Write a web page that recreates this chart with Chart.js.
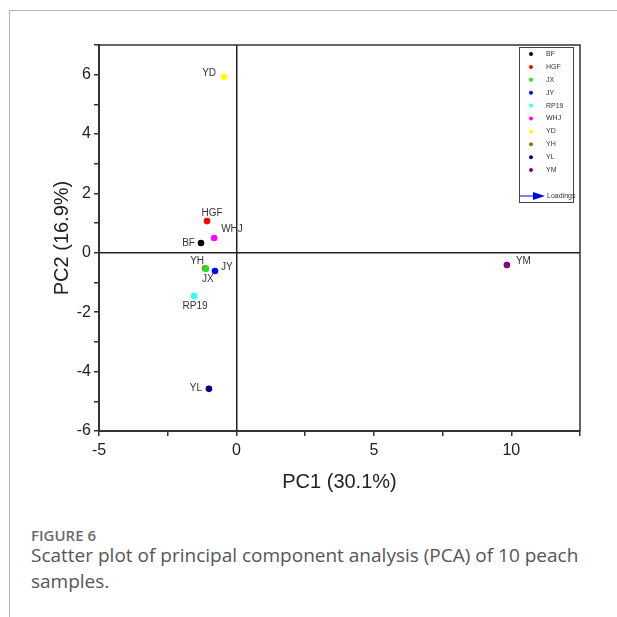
<!DOCTYPE html>
<html>
<head>
<meta charset="utf-8">
<script src="https://cdn.jsdelivr.net/npm/chart.js@4"></script>
<style>
  body { margin: 0; background: #fff; width: 617px; height: 617px; overflow: hidden; position: relative; }
  #frame { position: absolute; left: 9px; top: 10px; width: 620px; height: 620px; border-left: 1px solid #b5b5b5; border-top: 1px solid #b5b5b5; }
  #pca { position: absolute; left: 0; top: 0; }
  #fig { position: absolute; left: 31px; top: 525px; font-family: "Open Sans", sans-serif; font-size: 15px; font-weight: 600; color: #6b6b6b; }
  #cap { position: absolute; left: 31px; top: 542px; width: 580px; font-family: "Open Sans", sans-serif; font-size: 19px; line-height: 26px; color: #555; }
</style>
</head>
<body>
<div id="frame"></div>
<canvas id="pca" width="617" height="500"></canvas>
<div id="fig">FIGURE 6</div>
<div id="cap">Scatter plot of principal component analysis (PCA) of 10 peach samples.</div>
<script>
const samples = ['BF', 'HGF', 'JX', 'JY', 'RP19', 'WHJ', 'YD', 'YH', 'YL', 'YM'];
const pc1 = [-1.29, -1.07, -1.11, -0.78, -1.54, -0.81, -0.45, -1.14, -1.00, 9.84];
const pc2 = [0.33, 1.07, -0.54, -0.61, -1.45, 0.50, 5.92, -0.52, -4.58, -0.41];
const colors = ['#000000', '#ff0000', '#22e022', '#0000ff', '#33ffff', '#ff00ff', '#ffff00', '#808000', '#000080', '#800080'];
const xTicks = [-5, 0, 5, 10];
const yTicks = [-6, -4, -2, 0, 2, 4, 6];

// where each point label sits next to its point: [dx, dy, align]
const labelPos = {
  BF: [-6, 0, 'right'], HGF: [5, -8, 'center'], JX: [2, 10, 'center'], JY: [6, -4, 'left'],
  RP19: [1, 10, 'center'], WHJ: [7, -9, 'left'], YD: [-8, -4, 'right'], YH: [-8, -7, 'center'],
  YL: [-7, -1, 'right'], YM: [9, -4, 'left']
};

const datasets = samples.map((s, i) => ({
  label: s,
  data: [{ x: pc1[i], y: pc2[i] }],
  backgroundColor: colors[i],
  borderColor: colors[i],
  pointRadius: 3.3,
  pointHoverRadius: 3.3,
  borderWidth: 0
}));

const zeroGrid = c => (c.tick && c.tick.value === 0) ? '#222' : 'rgba(0,0,0,0)';

const decor = {
  id: 'decor',
  afterDatasetsDraw(chart) {
    const ctx = chart.ctx;
    const a = chart.chartArea;
    ctx.save();
    // box top and right
    ctx.strokeStyle = '#333';
    ctx.lineWidth = 1.5;
    ctx.beginPath();
    ctx.moveTo(a.left, a.top);
    ctx.lineTo(a.right, a.top);
    ctx.lineTo(a.right, a.bottom);
    ctx.stroke();

    // point labels
    ctx.font = '10px "Liberation Sans", Arial, sans-serif';
    ctx.fillStyle = '#333';
    ctx.textBaseline = 'middle';
    chart.data.datasets.forEach((ds, i) => {
      const pt = chart.getDatasetMeta(i).data[0];
      const p = labelPos[ds.label];
      ctx.textAlign = p[2];
      ctx.fillText(ds.label, pt.x + p[0], pt.y + p[1]);
    });

    // legend box
    const lx = a.right - 61, ly = a.top + 2;
    ctx.strokeStyle = '#444';
    ctx.lineWidth = 1;
    ctx.strokeRect(lx + 0.5, ly + 0.5, 54, 155);
    ctx.font = '7px "Liberation Sans", Arial, sans-serif';
    ctx.textAlign = 'left';
    chart.data.datasets.forEach((ds, i) => {
      const yy = ly + 7 + i * 12.9;
      ctx.fillStyle = ds.backgroundColor;
      ctx.beginPath();
      ctx.arc(lx + 12, yy, 2, 0, Math.PI * 2);
      ctx.fill();
      ctx.fillStyle = '#333';
      ctx.fillText(ds.label, lx + 27, yy);
    });
    const ay = ly + 149;
    ctx.strokeStyle = '#0000ff';
    ctx.beginPath();
    ctx.moveTo(lx + 1, ay);
    ctx.lineTo(lx + 18, ay);
    ctx.stroke();
    ctx.fillStyle = '#0000ff';
    ctx.beginPath();
    ctx.moveTo(lx + 14, ay - 4);
    ctx.lineTo(lx + 26, ay);
    ctx.lineTo(lx + 14, ay + 4);
    ctx.closePath();
    ctx.fill();
    ctx.fillStyle = '#333';
    ctx.fillText('Loadings', lx + 28, ay);
    ctx.restore();
  }
};

new Chart(document.getElementById('pca'), {
  type: 'scatter',
  data: { datasets },
  options: {
    responsive: false,
    animation: false,
    clip: false,
    layout: { padding: { top: 45, right: 37, left: 0, bottom: 0 } },
    plugins: { legend: { display: false }, tooltip: { enabled: false } },
    scales: {
      x: {
        type: 'linear',
        min: -5, max: 12.5,
        afterFit: s => { s.height = 69; },
        border: { display: true, color: '#333', width: 2 },
        grid: { drawOnChartArea: true, color: zeroGrid, tickColor: '#333', tickLength: 5, lineWidth: 1.5 },
        ticks: {
          stepSize: 2.5,
          padding: 5,
          color: '#222',
          font: { family: '"Liberation Sans", Arial, sans-serif', size: 16 },
          callback: v => xTicks.includes(v) ? String(v) : ''
        },
        title: {
          display: true, text: 'PC1 (30.1%)', color: '#222',
          font: { family: '"Liberation Sans", Arial, sans-serif', size: 20 },
          padding: { top: 0, bottom: 6 }
        }
      },
      y: {
        type: 'linear',
        min: -6, max: 7,
        afterFit: s => { s.width = 99; },
        border: { display: true, color: '#333', width: 2 },
        grid: { drawOnChartArea: true, color: zeroGrid, tickColor: '#333', tickLength: 5, lineWidth: 1.5 },
        ticks: {
          stepSize: 1,
          padding: 3,
          color: '#222',
          font: { family: '"Liberation Sans", Arial, sans-serif', size: 16 },
          callback: v => yTicks.includes(v) ? String(v) : ''
        },
        title: {
          display: true, text: 'PC2 (16.9%)', color: '#222',
          font: { family: '"Liberation Sans", Arial, sans-serif', size: 20 },
          padding: { top: 50, bottom: 0 }
        }
      }
    }
  },
  plugins: [decor]
});
</script>
</body>
</html>
